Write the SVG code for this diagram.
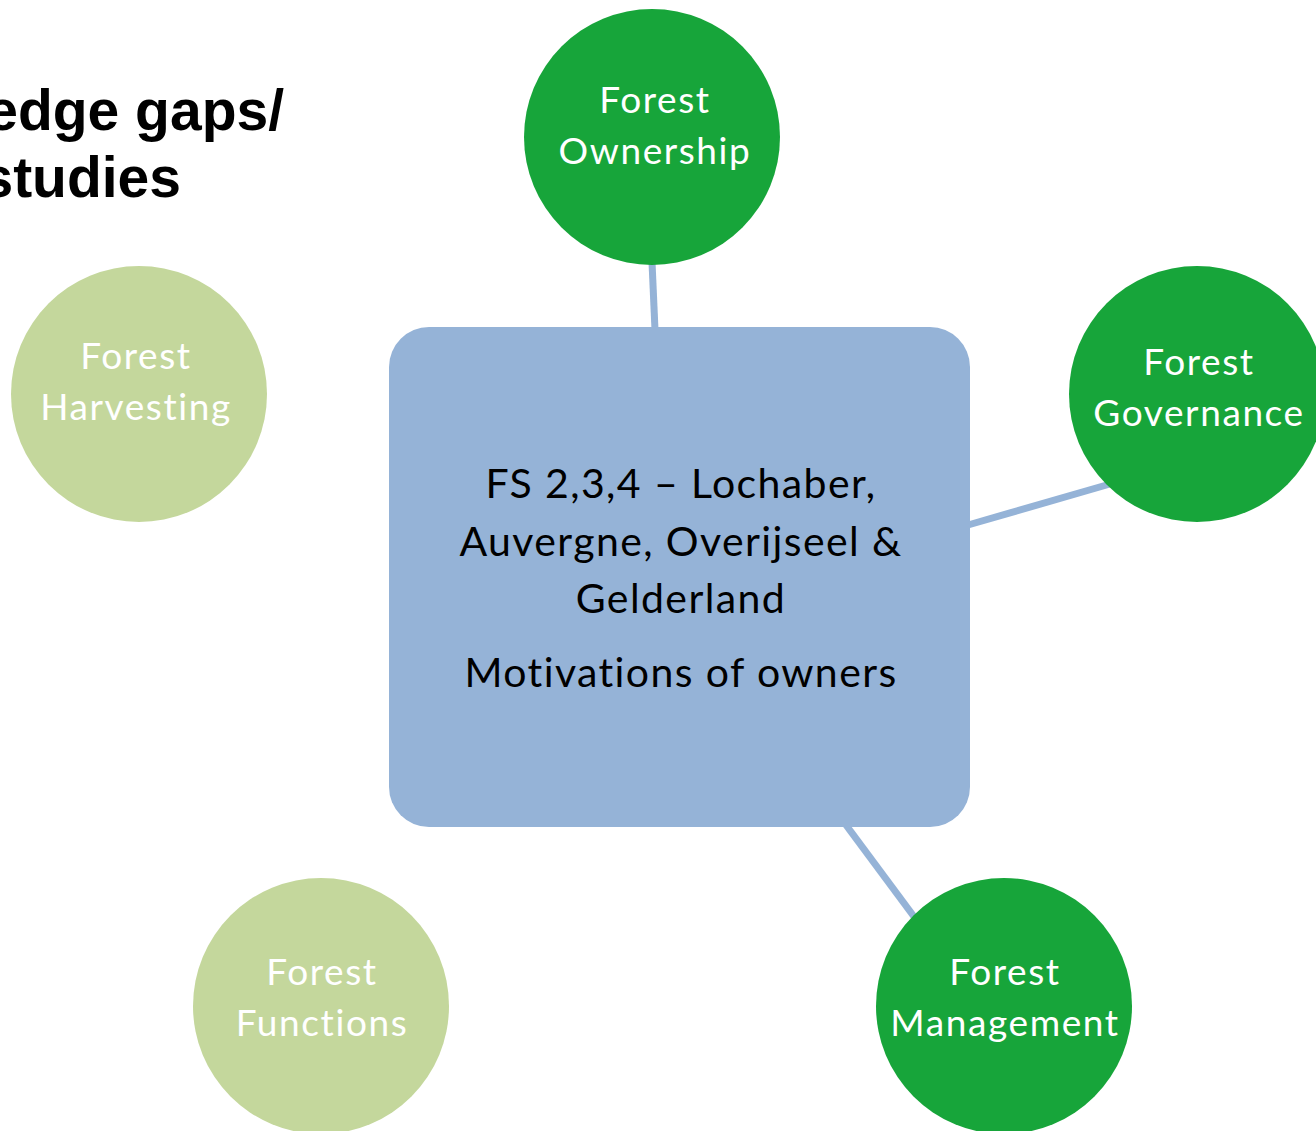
<svg xmlns="http://www.w3.org/2000/svg" width="1316" height="1131" viewBox="0 0 1316 1131">
<style>
.title{font-family:"Liberation Sans",Arial,sans-serif;font-weight:bold;font-size:57px;fill:#000}
.lbl{font-family:Lato,"Open Sans",sans-serif;font-size:37px;letter-spacing:1.6px;fill:#fff;text-anchor:middle}
.ctr{font-family:Lato,"Open Sans",sans-serif;font-size:41px;letter-spacing:1.4px;fill:#000;text-anchor:middle}
.dark{fill:#17A53A}
.light{fill:#C4D79C}
.conn{stroke:#95B3D7;stroke-width:7;fill:none}
</style>
<rect width="1316" height="1131" fill="#fff"/>
<g id="title">
<text class="title" x="284" y="130" text-anchor="end">edge gaps/</text>
<text class="title" x="181" y="197" text-anchor="end">studies</text>
</g>
<g id="connectors">
<line class="conn" x1="652" y1="262" x2="655" y2="330"/>
<line class="conn" x1="968" y1="525" x2="1110" y2="484"/>
<line class="conn" x1="846" y1="825" x2="915" y2="918"/>
</g>
<g id="center">
<rect x="389" y="327" width="581" height="500" rx="40" fill="#95B3D7"/>
<text class="ctr" x="681" y="498">FS 2,3,4 – Lochaber,</text>
<text class="ctr" x="681" y="556">Auvergne, Overijseel &amp;</text>
<text class="ctr" x="681" y="613">Gelderland</text>
<text class="ctr" x="681" y="687">Motivations of owners</text>
</g>
<g id="ownership">
<circle class="dark" cx="652" cy="137" r="128"/>
<text class="lbl" x="655" y="113">Forest</text>
<text class="lbl" x="655" y="164">Ownership</text>
</g>
<g id="governance">
<circle class="dark" cx="1197" cy="394" r="128"/>
<text class="lbl" x="1199" y="375">Forest</text>
<text class="lbl" x="1199" y="426">Governance</text>
</g>
<g id="harvesting">
<circle class="light" cx="139" cy="394" r="128"/>
<text class="lbl" x="136" y="369">Forest</text>
<text class="lbl" x="136" y="420">Harvesting</text>
</g>
<g id="functions">
<circle class="light" cx="321" cy="1006" r="128"/>
<text class="lbl" x="322" y="985">Forest</text>
<text class="lbl" x="322" y="1036">Functions</text>
</g>
<g id="management">
<circle class="dark" cx="1004" cy="1006" r="128"/>
<text class="lbl" x="1005" y="985">Forest</text>
<text class="lbl" x="1005" y="1036">Management</text>
</g>
</svg>
